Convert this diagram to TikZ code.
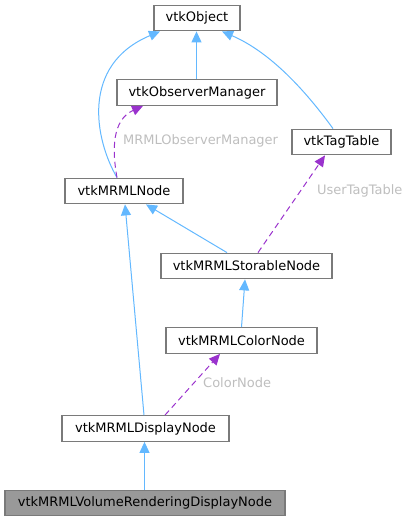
\documentclass[tikz,border=0pt]{standalone}
\usepackage{fontspec}
\setmainfont{DejaVu Sans}
\usetikzlibrary{arrows.meta}
\definecolor{edgeblue}{HTML}{63B8FF}
\definecolor{edgepurple}{HTML}{9A32CD}
\definecolor{boxline}{HTML}{7A7A7A}
\definecolor{lblgray}{HTML}{BEBEBE}
\definecolor{volfill}{HTML}{999999}
\begin{document}
\begin{tikzpicture}[x=1pt,y=-1pt,
  cls/.style={draw=boxline,line width=1.3pt,fill=white,inner sep=0pt,minimum height=25.5pt,font=\fontsize{13}{15}\selectfont},
  inh/.style={draw=edgeblue,line width=1pt,-{Triangle[length=11pt,width=10pt]}},
  use/.style={draw=edgepurple,line width=1pt,dash pattern=on 6pt off 4pt,-{Triangle[length=11pt,width=10pt]}},
  lbl/.style={text=lblgray,inner sep=0pt,font=\fontsize{13}{15}\selectfont}]
\useasboundingbox (0,0) rectangle (409,521);
\node[cls,minimum width=86pt] (obj) at (197,18) {vtkObject};
\node[cls,minimum width=160pt] (obs) at (197,92.5) {vtkObserverManager};
\node[cls,minimum width=99pt] (tag) at (341.5,142) {vtkTagTable};
\node[cls,minimum width=118pt] (mrml) at (124,191) {vtkMRMLNode};
\node[cls,minimum width=171pt] (stor) at (246.5,266) {vtkMRMLStorableNode};
\node[cls,minimum width=151pt] (color) at (241.5,340.5) {vtkMRMLColorNode};
\node[cls,minimum width=167pt] (disp) at (145.5,428.5) {vtkMRMLDisplayNode};
\node[cls,fill=volfill,minimum width=280pt] (vol) at (145,503) {vtkMRMLVolumeRenderingDisplayNode};
% inheritance
\draw[inh] ([xshift=-0.5pt]obs.north) -- ([xshift=-0.5pt]obj.south);
\draw[inh] ([xshift=-7pt]mrml.north) .. controls (95,140) and (80,65) .. ([xshift=-37pt]obj.south);
\draw[inh] ([xshift=-8.5pt]tag.north) .. controls (305,90) and (270,52) .. ([xshift=25pt]obj.south);
\draw[inh] ([xshift=-19.5pt]stor.north) -- ([xshift=22pt]mrml.south);
\draw[inh] ([xshift=-1.5pt]disp.north) -- ([xshift=1pt]mrml.south);
\draw[inh] (color.north) -- ([xshift=-1.5pt]stor.south);
\draw[inh] ([xshift=-0.5pt]vol.north) -- ([xshift=-1pt]disp.south);
% usage
\draw[use] ([xshift=-7pt]mrml.north) .. controls (112,150) and (112,120) .. ([xshift=-54pt]obs.south);
\draw[use] ([xshift=11.5pt]stor.north) -- ([xshift=-16.5pt]tag.south);
\draw[use] ([xshift=19.5pt]disp.north) -- ([xshift=-21.5pt]color.south);
% labels
\node[lbl,anchor=west] (l1) at (123,141) {MRMLObserverManager};
\node[lbl,anchor=west] (l2) at (317,190.5) {UserTagTable};
\node[lbl,anchor=west] (l3) at (203,383) {ColorNode};
\end{tikzpicture}
\end{document}
